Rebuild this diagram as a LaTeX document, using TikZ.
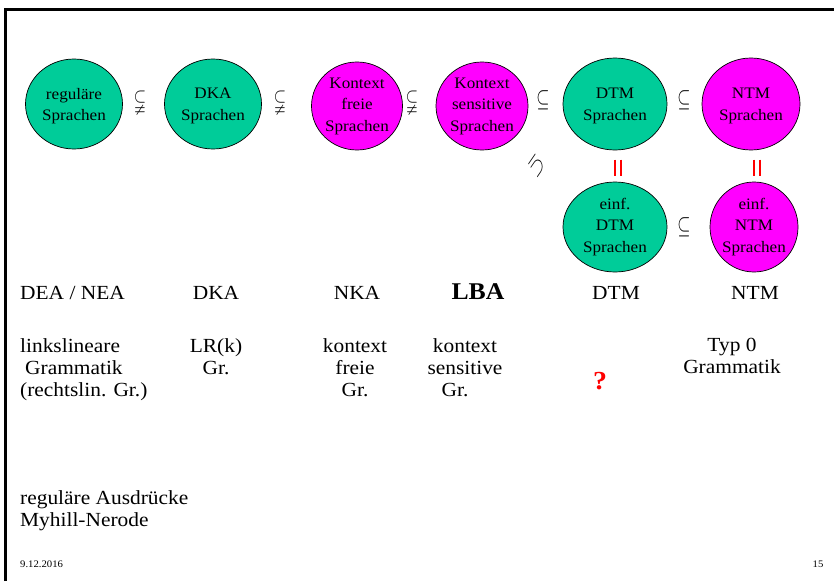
\documentclass[tikz,border=0pt]{standalone}
\usepackage{amssymb}
\usepackage{fontspec}
\setmainfont{Liberation Serif}[FakeStretch=1.07]
\usetikzlibrary{shapes.geometric}
\definecolor{lgreen}{RGB}{0,204,153}
\definecolor{lmag}{RGB}{255,0,255}
\tikzset{
  lang/.style={ellipse, draw=black, line width=0.7pt, inner sep=0pt},
  fillg/.style={lang, fill=lgreen},
  fillm/.style={lang, fill=lmag},
  ltext/.style={font=\fontsize{16}{21.5}\selectfont, align=center, inner sep=0pt},
  lab/.style={font=\fontsize{20}{22}\selectfont, inner sep=0pt, anchor=base},
  labm/.style={font=\fontsize{20}{22}\selectfont, inner sep=0pt, anchor=north},
  rel/.style={font=\fontsize{24}{24}\selectfont, inner sep=0pt, xscale=0.68},
  relq/.style={font=\fontsize{21}{21}\selectfont, inner sep=0pt, xscale=0.75},
  eqbar/.style={red, line width=2.4pt},
  foot/.style={font=\fontsize{10}{12}\selectfont, inner sep=0pt, anchor=base}
}
\begin{document}
\begin{tikzpicture}[x=1pt,y=-1pt]
\useasboundingbox (0,0) rectangle (834,581);
\fill[white] (0,0) rectangle (834,581);
\draw[line width=2.5pt] (5.3,581) -- (5.3,9.5) -- (834,9.5);

% language classes
\node[fillg, minimum width=97pt, minimum height=90pt] (rs) at (74,104) {};
\node[ltext] (rst) at ([yshift=-2pt]rs.center) {reguläre\\Sprachen};
\node[fillg, minimum width=97pt, minimum height=90pt] (dka) at (213,104) {};
\node[ltext] (dkat) at ([yshift=-2pt]dka.center) {DKA\\Sprachen};
\node[fillm, minimum width=91pt, minimum height=88pt] (kf) at (357,106) {};
\node[ltext] (kft) at (kf) {Kontext\\freie\\Sprachen};
\node[fillm, minimum width=92pt, minimum height=88pt] (ks) at (482,106) {};
\node[ltext] (kst) at (ks) {Kontext\\sensitive\\Sprachen};
\node[fillg, minimum width=104pt, minimum height=92pt] (dtm) at (615,104) {};
\node[ltext] (dtmt) at ([yshift=-2pt]dtm.center) {DTM\\Sprachen};
\node[fillm, minimum width=98pt, minimum height=92pt] (ntm) at (751,104) {};
\node[ltext] (ntmt) at ([yshift=-2pt]ntm.center) {NTM\\Sprachen};
\node[fillg, minimum width=104pt, minimum height=90pt] (edtm) at (615,227) {};
\node[ltext] (edtmt) at (edtm) {einf.\\DTM\\Sprachen};
\node[fillm, minimum width=88pt, minimum height=90pt] (entm) at (754,227) {};
\node[ltext] (entmt) at (entm) {einf.\\NTM\\Sprachen};

% relations
\node[relq] (r1) at (140,102) {$\subsetneqq$};
\node[relq] (r2) at (280,102) {$\subsetneqq$};
\node[relq] (r3) at (412,102) {$\subsetneqq$};
\node[rel] (r4) at (543,100) {$\subseteq$};
\node[rel] (r5) at (684,100) {$\subseteq$};
\node[rel] (r6) at (684,227) {$\subseteq$};
\node[rel, rotate=-135] (r7) at (537,166) {$\subseteq$};
\coordinate (e1) at (618,168);
\coordinate (e2) at (757,168);
\draw[eqbar] ([xshift=-2.8pt,yshift=8.3pt]e1) -- ([xshift=-2.8pt,yshift=-8.3pt]e1);
\draw[eqbar] ([xshift=2.8pt,yshift=8.3pt]e1) -- ([xshift=2.8pt,yshift=-8.3pt]e1);
\draw[eqbar] ([xshift=-2.8pt,yshift=8.3pt]e2) -- ([xshift=-2.8pt,yshift=-8.3pt]e2);
\draw[eqbar] ([xshift=2.8pt,yshift=8.3pt]e2) -- ([xshift=2.8pt,yshift=-8.3pt]e2);

% automata row
\node[lab, anchor=base west] (a1) at (20,299) {DEA / NEA};
\node[lab] (a2) at (216,299) {DKA};
\node[lab] (a3) at (357,299) {NKA};
\node[lab, font=\fontsize{24}{26}\selectfont\bfseries] (a4) at (478,299) {LBA};
\node[lab] (a5) at (616,299) {DTM};
\node[lab] (a6) at (755,299) {NTM};

% grammar row
\node[labm, anchor=north west, align=left] (g1) at (20,338) {linkslineare\\\hspace*{5pt}Grammatik\\(rechtslin. Gr.)};
\node[labm, align=center] (g2) at (216,338) {LR(k)\\Gr.};
\node[labm, align=center] (g3) at (355,338) {kontext\\freie\\Gr.};
\node[labm, align=center] (g4) at (465,338) {kontext\\sensitive\\Gr.\hspace*{20pt}};
\node[font=\fontsize{26}{26}\selectfont\bfseries, text=red, inner sep=0pt] (q) at (600,381) {?};
\node[labm, align=center] (g6) at (732,338) {Typ 0\\Grammatik};

% regular expressions
\node[labm, anchor=north west, align=left] (re) at (20,490) {reguläre Ausdrücke\\Myhill-Nerode};

% footer
\node[foot, anchor=base west] (date) at (20,567) {9.12.2016};
\node[foot] (page) at (818,567) {15};
\end{tikzpicture}
\end{document}
